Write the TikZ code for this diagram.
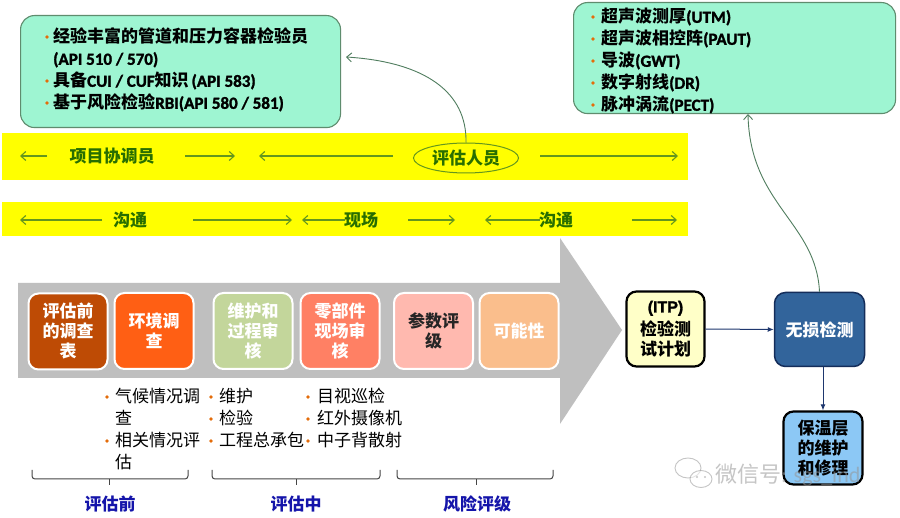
\documentclass[tikz,border=0pt]{standalone}
\usepackage{fontspec}
\setmainfont{Noto Sans CJK SC}
\newfontfamily\lat{Carlito}
\newfontfamily\latb{Carlito}[FakeBold=1.6]
\newfontfamily\arialb{Liberation Sans}[FakeBold=1.6]
\usetikzlibrary{shapes.geometric,arrows.meta}
\definecolor{mint}{RGB}{158,245,210}
\definecolor{mintborder}{RGB}{95,140,110}
\definecolor{bulorange}{RGB}{228,108,10}
\definecolor{bandyellow}{RGB}{255,255,0}
\definecolor{bandtext}{RGB}{40,110,0}
\definecolor{bandarrowc}{RGB}{100,150,30}
\definecolor{curvec}{RGB}{80,125,95}
\definecolor{greyarrow}{RGB}{191,191,191}
\definecolor{cbrown}{RGB}{190,75,5}
\definecolor{corange}{RGB}{255,95,20}
\definecolor{cgreen}{RGB}{195,214,155}
\definecolor{csalmon}{RGB}{255,128,100}
\definecolor{cpink}{RGB}{255,185,175}
\definecolor{cpeach}{RGB}{250,190,140}
\definecolor{itpfill}{RGB}{255,255,200}
\definecolor{ndtfill}{RGB}{50,100,155}
\definecolor{ndtborder}{RGB}{20,45,90}
\definecolor{insfill}{RGB}{140,200,245}
\definecolor{navyc}{RGB}{30,55,110}
\definecolor{labelblue}{RGB}{20,20,170}
\definecolor{bracec}{RGB}{70,70,70}
\definecolor{wmark}{RGB}{150,150,150}
\begin{document}
\begin{tikzpicture}[x=1pt,y=-1pt,
  infobox/.style={draw=mintborder, line width=1.1pt, fill=mint, rounded corners=14pt, anchor=north west, inner sep=0},
  ln/.style={anchor=west, inner sep=0, text height=0.76em, text depth=0em, font=\fontsize{17}{20}\selectfont\bfseries},
  lnplain/.style={anchor=west, inner sep=0, text height=0.76em, text depth=0em, font=\fontsize{17}{20}\selectfont},
  bul/.style={fill=bulorange},
  band/.style={fill=bandyellow},
  bandlabel/.style={inner sep=0, text=bandtext, font=\fontsize{17}{20}\selectfont\bfseries},
  bandarrow/.style={draw=bandarrowc, line width=1.1pt, -{Straight Barb[length=5pt,width=9pt]}},
  stepbox/.style={draw=white, line width=2pt, rounded corners=10pt, minimum width=79pt, minimum height=76pt, align=center, inner sep=0, text=white, font=\fontsize{17}{20}\selectfont\bfseries},
  curvearrow/.style={draw=curvec, line width=0.9pt, -{Straight Barb[length=5pt,width=9pt]}},
  navyarrow/.style={draw=navyc, line width=1pt, -{Latex[length=6pt,width=5pt]}},
  bracestyle/.style={draw=bracec, line width=1pt, rounded corners=3pt},
  bracelabel/.style={inner sep=0, text=labelblue, font=\fontsize{17}{20}\selectfont\bfseries}
]
\useasboundingbox (0,0) rectangle (900,518);
\fill[white] (0,0) rectangle (900,518);

% ---------- top-left info box ----------
\node[infobox, minimum width=320pt, minimum height=112pt] (skills) at (20,15) {};
\fill[bul] (47,37) circle (1.8);
\node[ln] (s1) at (53,39) {经验丰富的管道和压力容器检验员};
\node[ln] (s2) at (53,61) {\latb (API 510 / 570)};
\fill[bul] (47,81) circle (1.8);
\node[ln] (s3) at (53,83) {具备{\latb CUI / CUF}知识{\latb\,(API 583)}};
\fill[bul] (47,103) circle (1.8);
\node[ln] (s4) at (53,105) {基于风险检验{\latb RBI(API 580 / 581)}};

% ---------- top-right info box ----------
\node[infobox, minimum width=322pt, minimum height=111pt] (ndtlist) at (573,2) {};
\fill[bul] (593,17) circle (1.8);
\node[ln] (n1) at (601,19) {超声波测厚{\latb (UTM)}};
\fill[bul] (593,39) circle (1.8);
\node[ln] (n2) at (601,41) {超声波相控阵{\latb (PAUT)}};
\fill[bul] (593,61) circle (1.8);
\node[ln] (n3) at (601,63) {导波{\latb (GWT)}};
\fill[bul] (593,83) circle (1.8);
\node[ln] (n4) at (601,85) {数字射线{\latb (DR)}};
\fill[bul] (593,105) circle (1.8);
\node[ln] (n5) at (601,107) {脉冲涡流{\latb (PECT)}};

% ---------- yellow bands ----------
\fill[band] (2,133) rectangle (688,180);
\fill[band] (2,202) rectangle (688,236);

\node[bandlabel] (pm) at (112,156) {项目协调员};
\node[draw=bandarrowc, line width=1pt, ellipse, minimum width=105pt, minimum height=30pt, inner sep=0,
      text=bandtext, font=\fontsize{17}{20}\selectfont\bfseries] (eval) at (466,158) {评估人员};
\coordinate (a1s) at (47,156);  \coordinate (a1e) at (20,156);
\coordinate (a2s) at (185,156); \coordinate (a2e) at (235,156);
\coordinate (a3s) at (393,156); \coordinate (a3e) at (259,156);
\coordinate (a4s) at (540,156); \coordinate (a4e) at (678,156);
\draw[bandarrow] (a1s) -- (a1e);
\draw[bandarrow] (a2s) -- (a2e);
\draw[bandarrow] (a3s) -- (a3e);
\draw[bandarrow] (a4s) -- (a4e);

\coordinate (b1s) at (102,220); \coordinate (b1e) at (20,220);
\coordinate (b2s) at (193,220); \coordinate (b2e) at (292,220);
\coordinate (b3s) at (345,220); \coordinate (b3e) at (302,220);
\coordinate (b4s) at (408,220); \coordinate (b4e) at (455,220);
\coordinate (b5s) at (540,220); \coordinate (b5e) at (485,220);
\coordinate (b6s) at (632,220); \coordinate (b6e) at (677,220);
\draw[bandarrow] (b1s) -- (b1e);
\draw[bandarrow] (b2s) -- (b2e);
\draw[bandarrow] (b3s) -- (b3e);
\draw[bandarrow] (b4s) -- (b4e);
\draw[bandarrow] (b5s) -- (b5e);
\draw[bandarrow] (b6s) -- (b6e);
\node[bandlabel] (comm1) at (130,220) {沟通};
\node[bandlabel] (site) at (361,220) {现场};
\node[bandlabel] (comm2) at (556,220) {沟通};

% ---------- big grey arrow ----------
\fill[greyarrow] (18,283) -- (560,283) -- (560,238) -- (622,330) -- (560,424) -- (560,378) -- (18,378) -- cycle;

\node[stepbox, fill=cbrown] (p1) at (68,331.5) {评估前\\的调查\\表};
\node[stepbox, fill=corange] (p2) at (154,331) {环境调\\查};
\node[stepbox, fill=cgreen] (p3) at (253,331) {维护和\\过程审\\核};
\node[stepbox, fill=csalmon] (p4) at (340,331) {零部件\\现场审\\核};
\node[stepbox, fill=cpink, text=black!85] (p5) at (433.5,331) {参数评\\级};
\node[stepbox, fill=cpeach] (p6) at (519,331) {可能性};

% ---------- right flow ----------
\node[draw=black, line width=2.2pt, fill=itpfill, rounded corners=10pt, minimum width=78pt, minimum height=75pt,
      align=center, inner sep=0, font=\fontsize{17}{20}\selectfont\bfseries] (itp) at (665.5,329)
      {{\arialb\fontsize{16}{18}\selectfont (ITP)}\\[3pt]检验测\\试计划};
\node[draw=ndtborder, line width=1.5pt, fill=ndtfill, rounded corners=11pt, minimum width=90pt, minimum height=74pt,
      inner sep=0, text=white, font=\fontsize{17}{20}\selectfont\bfseries] (ndt) at (819.5,329.5) {无损检测};
\node[draw=black, line width=2.2pt, fill=insfill, rounded corners=10pt, minimum width=79pt, minimum height=73pt,
      align=center, inner sep=0, font=\fontsize{17}{20}\selectfont\bfseries] (ins) at (823,448) {保温层\\的维护\\和修理};
\draw[navyarrow] (itp.east) -- (ndt.west);
\draw[navyarrow] (ins.north |- ndt.south) -- (ins.north);

% ---------- curved connectors ----------
\coordinate (skillsin) at (346,57);
\coordinate (ndtlistin) at (748,114);
\draw[curvearrow] (eval.north) .. controls (467,92) and (425,62) .. (skillsin);
\draw[curvearrow] (ndt.north) .. controls (816,222) and (750,205) .. (ndtlistin);

% ---------- lists under the arrow ----------
\fill[bul] (107,397) circle (1.8);
\node[lnplain] (c1a) at (115,399) {气候情况调};
\node[lnplain] (c1b) at (115,421) {查};
\fill[bul] (107,441) circle (1.8);
\node[lnplain] (c1c) at (115,443) {相关情况评};
\node[lnplain] (c1d) at (115,465) {估};

\fill[bul] (211,397) circle (1.8);
\node[lnplain] (c2a) at (219,399) {维护};
\fill[bul] (211,419) circle (1.8);
\node[lnplain] (c2b) at (219,421) {检验};
\fill[bul] (211,441) circle (1.8);
\node[lnplain] (c2c) at (219,443) {工程总承包};

\fill[bul] (308,397) circle (1.8);
\node[lnplain] (c3a) at (317,399) {目视巡检};
\fill[bul] (308,419) circle (1.8);
\node[lnplain] (c3b) at (317,421) {红外摄像机};
\fill[bul] (308,441) circle (1.8);
\node[lnplain] (c3c) at (317,443) {中子背散射};

% ---------- braces ----------
\draw[bracestyle] (32,470) |- (188,479) -- (188,470);
\draw[bracestyle] (109,479) -- (109,485);
\draw[bracestyle] (212,470) |- (380,479) -- (380,470);
\draw[bracestyle] (296,479) -- (296,485);
\draw[bracestyle] (397,470) |- (553,479) -- (553,470);
\draw[bracestyle] (476,479) -- (476,485);
\node[bracelabel] (l1) at (110,504) {评估前};
\node[bracelabel] (l2) at (296,504) {评估中};
\node[bracelabel] (l3) at (477,504) {风险评级};

% ---------- watermark ----------
\begin{scope}[opacity=0.55]
\draw[wmark, line width=0.9pt] (688,468) ellipse (13 and 10);
\draw[wmark, line width=0.9pt, fill=white] (701,479) ellipse (11 and 8.5);
\fill[wmark] (697,477) circle (1.1); \fill[wmark] (705,477) circle (1.1);
\node[inner sep=0, anchor=west, text=wmark, font=\fontsize{22}{24}\selectfont] (wm) at (715,475) {微信号{\lat : sgs\_ind}};
\end{scope}
\end{tikzpicture}
\end{document}
